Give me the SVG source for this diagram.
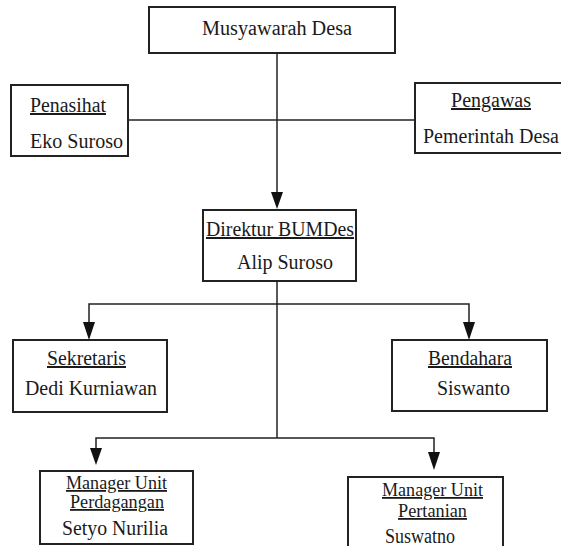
<svg xmlns="http://www.w3.org/2000/svg" width="561" height="546" viewBox="0 0 561 546">
<defs>
<style>
.box{fill:#fff;stroke:#222;stroke-width:2}
.ln{fill:none;stroke:#222;stroke-width:1.5}
.ah{fill:#111}
text{font-family:"Liberation Serif","Times New Roman",serif;font-size:20px;fill:#1a1a1a}
.s{font-size:18px}
.u{text-decoration:underline}
</style>
</defs>
<rect width="561" height="546" fill="#fff"/>
<g id="connectors">
<line class="ln" x1="277" y1="53" x2="277" y2="192"/>
<path class="ah" d="M271,192 L283,192 L277,209 Z"/>
<line class="ln" x1="128" y1="120" x2="415" y2="120"/>
<line class="ln" x1="277" y1="281" x2="277" y2="438"/>
<polyline class="ln" points="89,322 89,304 469,304 469,322"/>
<path class="ah" d="M83,322 L95,322 L89,340 Z"/>
<path class="ah" d="M463,322 L475,322 L469,340 Z"/>
<polyline class="ln" points="96,448 96,438 434,438 434,452"/>
<path class="ah" d="M90,448 L102,448 L96,465 Z"/>
<path class="ah" d="M428,452 L440,452 L434,470 Z"/>
</g>
<g id="musyawarah">
<rect class="box" x="149" y="7" width="246" height="46"/>
<text x="202" y="35" textLength="150" lengthAdjust="spacingAndGlyphs">Musyawarah Desa</text>
</g>
<g id="penasihat">
<rect class="box" x="11" y="85" width="117" height="71"/>
<text class="u" x="30" y="112" textLength="76" lengthAdjust="spacingAndGlyphs">Penasihat</text>
<text x="30" y="148" textLength="93" lengthAdjust="spacingAndGlyphs">Eko Suroso</text>
</g>
<g id="pengawas">
<rect class="box" x="415" y="83" width="160" height="70"/>
<text class="u" x="451" y="107" textLength="80" lengthAdjust="spacingAndGlyphs">Pengawas</text>
<text x="423" y="143" textLength="136" lengthAdjust="spacingAndGlyphs">Pemerintah Desa</text>
</g>
<g id="direktur">
<rect class="box" x="203" y="210" width="153" height="71"/>
<text class="u" x="206" y="236" textLength="148" lengthAdjust="spacingAndGlyphs">Direktur BUMDes</text>
<text x="237" y="269" textLength="96" lengthAdjust="spacingAndGlyphs">Alip Suroso</text>
</g>
<g id="sekretaris">
<rect class="box" x="13" y="340" width="154" height="72"/>
<text class="u" x="47" y="365" textLength="79" lengthAdjust="spacingAndGlyphs">Sekretaris</text>
<text x="25" y="395" textLength="132" lengthAdjust="spacingAndGlyphs">Dedi Kurniawan</text>
</g>
<g id="bendahara">
<rect class="box" x="392" y="340" width="155" height="71"/>
<text class="u" x="428" y="365" textLength="84" lengthAdjust="spacingAndGlyphs">Bendahara</text>
<text x="437" y="395" textLength="73" lengthAdjust="spacingAndGlyphs">Siswanto</text>
</g>
<g id="perdagangan">
<rect class="box" x="40" y="471" width="153" height="73"/>
<text class="u s" x="66" y="489" textLength="101" lengthAdjust="spacingAndGlyphs">Manager Unit</text>
<text class="u s" x="70" y="508" textLength="94" lengthAdjust="spacingAndGlyphs">Perdagangan</text>
<text x="62" y="535" textLength="106" lengthAdjust="spacingAndGlyphs">Setyo Nurilia</text>
</g>
<g id="pertanian">
<rect class="box" x="348" y="477" width="155" height="80"/>
<text class="u s" x="382" y="496" textLength="101" lengthAdjust="spacingAndGlyphs">Manager Unit</text>
<text class="u s" x="398" y="517" textLength="69" lengthAdjust="spacingAndGlyphs">Pertanian</text>
<text x="385" y="543" textLength="70" lengthAdjust="spacingAndGlyphs">Suswatno</text>
</g>
</svg>
